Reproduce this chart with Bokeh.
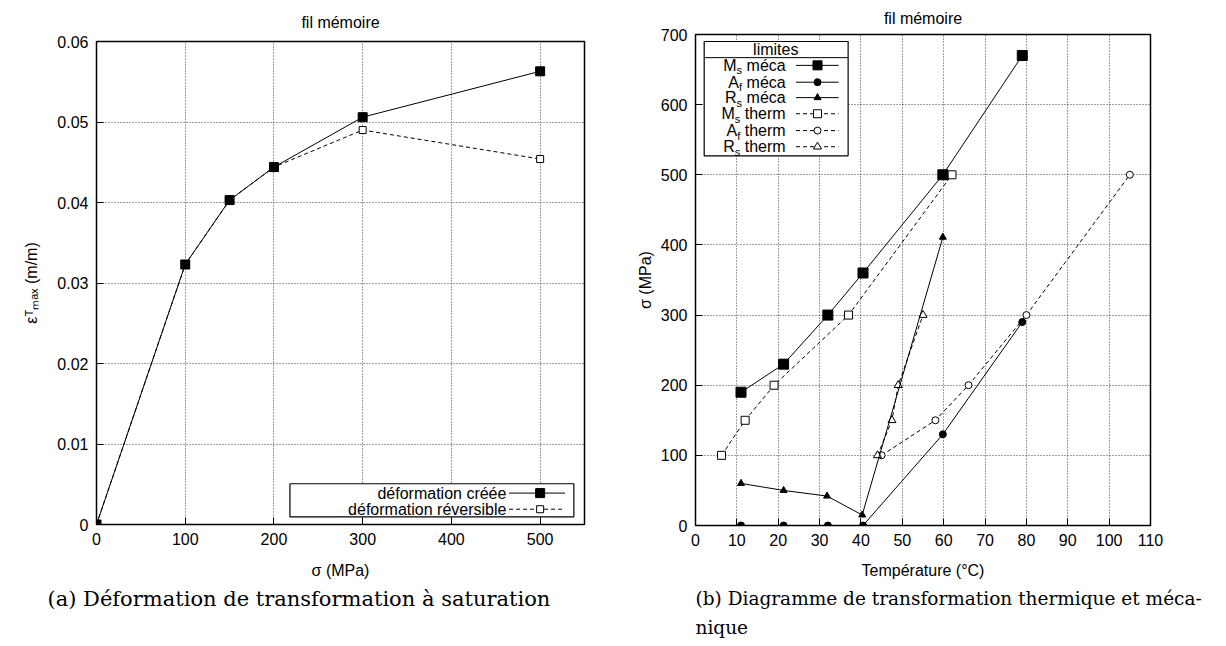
from bokeh.plotting import figure
from bokeh.layouts import row, column
from bokeh.models import Range1d, FixedTicker, Title, NumeralTickFormatter
from bokeh.core.properties import value
from bokeh.embed import file_html
from bokeh.resources import INLINE

# ---------------- data (left panel) ----------------
sigma = [0, 100, 150, 200, 300, 500]
eps_created = [0.0, 0.0323, 0.0403, 0.0444, 0.0506, 0.0563]
eps_reversible = [0.0, 0.0323, 0.0403, 0.0444, 0.0490, 0.0454]
left_xticks = [0, 100, 200, 300, 400, 500]
left_yticks = [0, 0.01, 0.02, 0.03, 0.04, 0.05, 0.06]

# ---------------- data (right panel) ----------------
ms_meca_T = [11, 21.3, 32, 40.5, 59.8, 79]
ms_meca_s = [190, 230, 300, 360, 500, 670]
af_meca_T = [11, 21.3, 32, 40.5, 59.8, 79]
af_meca_s = [0, 0, 0, 0, 130, 290]
rs_meca_T = [11, 21.3, 31.8, 40.3, 59.8]
rs_meca_s = [60, 50, 42, 15, 411]
ms_therm_T = [6.3, 12, 19, 37, 62]
ms_therm_s = [100, 150, 200, 300, 500]
af_therm_T = [45, 58, 66, 80, 105]
af_therm_s = [100, 150, 200, 300, 500]
rs_therm_T = [44, 47.5, 49, 55]
rs_therm_s = [100, 150, 200, 300]
right_xticks = list(range(0, 111, 10))
right_yticks = list(range(0, 701, 100))

SANS = "Liberation Sans"
SERIF = "DejaVu Serif"
DASH = "4 3"

# Helvetica/Arial advance widths (per 1000 em) for text placement
HELV = {" ": 278, "m": 833, "é": 556, "c": 500, "a": 556, "t": 278, "h": 556,
        "e": 556, "r": 333, "s": 500, "f": 278, "M": 833, "A": 667, "R": 722}


def tw(s, size):
    return sum(HELV.get(ch, 556) for ch in s) / 1000.0 * size


def style(p, xticks, yticks):
    p.outline_line_color = "black"
    p.outline_line_width = 1.5
    for ax in (p.xaxis, p.yaxis):
        ax.axis_line_color = None
        ax.major_tick_in = 7
        ax.major_tick_out = 0
        ax.minor_tick_line_color = None
        ax.major_tick_line_color = "black"
        ax.major_label_text_font = SANS
        ax.major_label_text_font_size = "16px"
        ax.major_label_text_color = "black"
        ax.axis_label_text_font = SANS
        ax.axis_label_text_font_size = "16px"
        ax.axis_label_text_font_style = "normal"
        ax.axis_label_text_color = "black"
    p.xaxis.ticker = FixedTicker(ticks=xticks)
    p.yaxis.ticker = FixedTicker(ticks=yticks)
    for g in (p.xgrid, p.ygrid):
        g.grid_line_color = "black"
        g.grid_line_alpha = 0.75
        g.grid_line_dash = "1 2"
        g.grid_line_width = 1
    p.title.text_font = SANS
    p.title.text_font_size = "16px"
    p.title.text_font_style = "normal"
    p.title.text_color = "black"
    p.title.align = "center"
    p.background_fill_color = "white"
    p.border_fill_color = "white"


def caption(p, text, offset, size, standoff):
    p.add_layout(Title(text=text, align="left", offset=offset, text_font=SERIF,
                       text_font_size=size, text_font_style="normal",
                       text_color="black", standoff=standoff), "below")


def legend_text(p, x, y, main, sub, rest, size, subsize):
    """Right-aligned legend entry text 'main_sub rest' ending at data x."""
    p.text(x=[x], y=[y], text=[rest], text_align="right", text_baseline="middle",
           text_font=value(SANS), text_font_size=f"{size}px", text_color="black")
    off = tw(" " + rest, size)
    p.text(x=[x], y=[y], text=[sub], text_align="right", text_baseline="middle",
           text_font=value(SANS), text_font_size=f"{subsize}px", text_color="black",
           x_offset=-off, y_offset=5)
    off2 = off + tw(sub, subsize)
    p.text(x=[x], y=[y], text=[main], text_align="right", text_baseline="middle",
           text_font=value(SANS), text_font_size=f"{size}px", text_color="black",
           x_offset=-off2)


# ================= LEFT FIGURE =================
p1 = figure(frame_width=488, frame_height=483, output_backend="svg", toolbar_location=None,
            x_range=Range1d(0, 550), y_range=Range1d(0, 0.06), title="fil mémoire",
            min_border_left=96, min_border_right=16, min_border_top=41, min_border_bottom=113)
style(p1, left_xticks, left_yticks)
p1.title.standoff = 21
p1.yaxis.formatter = NumeralTickFormatter(format="0.[00]")
p1.xaxis.axis_label = "σ (MPa)"
p1.yaxis.axis_label = "εᵀₘₐₓ (m/m)"
p1.xaxis.major_label_standoff = 8
p1.yaxis.major_label_standoff = 8
p1.xaxis.axis_label_standoff = 14
p1.yaxis.axis_label_standoff = 14

p1.line(sigma, eps_reversible, line_color="black", line_width=1, line_dash=DASH)
p1.scatter(sigma, eps_reversible, marker="square", size=7, fill_color="white", line_color="black")
p1.line(sigma, eps_created, line_color="black", line_width=1)
p1.scatter(sigma, eps_created, marker="square", size=9, fill_color="black", line_color="black")

# legend (box bottom-right)
p1.quad(left=[218], right=[538], bottom=[0.00095], top=[0.00506],
        fill_color="white", line_color="black", line_width=1.2)
lx_text, lx0, lx1, lxm = 462, 465, 528, 500
rows1 = [0.0039, 0.0019]
p1.text(x=[lx_text], y=[rows1[0]], text=["déformation créée"], text_align="right",
        text_baseline="middle", text_font=value(SANS), text_font_size="16px", text_color="black")
p1.text(x=[lx_text], y=[rows1[1]], text=["déformation réversible"], text_align="right",
        text_baseline="middle", text_font=value(SANS), text_font_size="16px", text_color="black")
p1.line([lx0, lx1], [rows1[0], rows1[0]], line_color="black", line_width=1)
p1.scatter([lxm], [rows1[0]], marker="square", size=9, fill_color="black", line_color="black")
p1.line([lx0, lx1], [rows1[1], rows1[1]], line_color="black", line_width=1, line_dash=DASH)
p1.scatter([lxm], [rows1[1]], marker="square", size=7, fill_color="white", line_color="black")

caption(p1, "(a) Déformation de transformation à saturation", -49, "21px", 6)

# ================= RIGHT FIGURE =================
p2 = figure(frame_width=455, frame_height=491, output_backend="svg", toolbar_location=None,
            x_range=Range1d(0, 110), y_range=Range1d(0, 700), title="fil mémoire",
            min_border_left=95, min_border_right=60, min_border_top=34, min_border_bottom=112)
style(p2, right_xticks, right_yticks)
p2.title.standoff = 15
p2.xaxis.axis_label = "Température (°C)"
p2.yaxis.axis_label = "σ (MPa)"
p2.xaxis.major_label_standoff = 8
p2.yaxis.major_label_standoff = 8
p2.xaxis.axis_label_standoff = 13
p2.yaxis.axis_label_standoff = 4

# therm (dashed, open markers)
p2.line(ms_therm_T, ms_therm_s, line_color="black", line_width=1, line_dash=DASH)
p2.scatter(ms_therm_T, ms_therm_s, marker="square", size=8, fill_color="white", line_color="black")
p2.line(af_therm_T, af_therm_s, line_color="black", line_width=1, line_dash=DASH)
p2.scatter(af_therm_T, af_therm_s, marker="circle", size=7, fill_color="white", line_color="black")
p2.line(rs_therm_T, rs_therm_s, line_color="black", line_width=1, line_dash=DASH)
p2.scatter(rs_therm_T, rs_therm_s, marker="triangle", size=8, fill_color="white", line_color="black")
# meca (solid, filled markers)
p2.line(ms_meca_T, ms_meca_s, line_color="black", line_width=1)
p2.scatter(ms_meca_T, ms_meca_s, marker="square", size=10, fill_color="black", line_color="black")
p2.line(af_meca_T, af_meca_s, line_color="black", line_width=1)
p2.scatter(af_meca_T, af_meca_s, marker="circle", size=7, fill_color="black", line_color="black")
p2.line(rs_meca_T, rs_meca_s, line_color="black", line_width=1)
p2.scatter(rs_meca_T, rs_meca_s, marker="triangle", size=7, fill_color="black", line_color="black")

# legend box (top-left) with title "limites"
p2.quad(left=[2.1], right=[36.9], bottom=[527], top=[690],
        fill_color="white", line_color="black", line_width=1.2)
p2.line([2.1, 36.9], [667, 667], line_color="black", line_width=1)
p2.text(x=[19.4], y=[678], text=["limites"], text_align="center", text_baseline="middle",
        text_font=value(SANS), text_font_size="16px", text_color="black")
entries = [("M", "s", "méca", "square", "black", 9, None),
           ("A", "f", "méca", "circle", "black", 7, None),
           ("R", "s", "méca", "triangle", "black", 7, None),
           ("M", "s", "therm", "square", "white", 8, DASH),
           ("A", "f", "therm", "circle", "white", 7, DASH),
           ("R", "s", "therm", "triangle", "white", 8, DASH)]
rows2 = [656, 632, 610, 587, 563, 540]
rx_text, rx0, rx1, rxm = 21.8, 24.3, 34.6, 29.5
for (main, sub, rest, mk, fc, sz, dash), ry in zip(entries, rows2):
    legend_text(p2, rx_text, ry, main, sub, rest, 16, 11)
    if dash:
        p2.line([rx0, rx1], [ry, ry], line_color="black", line_width=1, line_dash=dash)
    else:
        p2.line([rx0, rx1], [ry, ry], line_color="black", line_width=1)
    p2.scatter([rxm], [ry], marker=mk, size=sz, fill_color=fc, line_color="black")

caption(p2, "(b) Diagramme de transformation thermique et méca-", 0, "18.5px", 9)
caption(p2, "nique", 0, "18.5px", 3)

layout = row(p1, column(p2))
open("out.html", "w").write(file_html(layout, INLINE))
